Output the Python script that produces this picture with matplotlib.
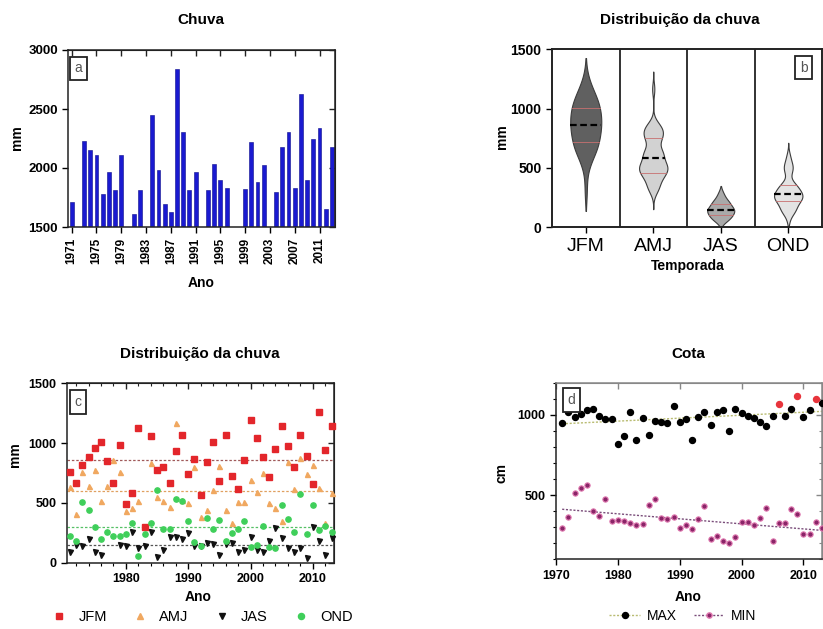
import numpy as np
import matplotlib
matplotlib.use("Agg")
import matplotlib.pyplot as plt
from matplotlib.lines import Line2D

plt.rcParams['font.family'] = ['Liberation Sans', 'DejaVu Sans']

# ---------------- data ----------------
years = list(range(1971, 2014))

annual_mm = [1710, 1420, 2225, 2154, 2109, 1782, 1962, 1816, 2109, 1300,
             1607, 1810, 1000, 2450, 1985, 1697, 1624, 2836, 2309, 1816,
             1962, 1265, 1810, 2036, 1900, 1830, 1467, 1480, 1821, 2219,
             1878, 2022, 1490, 1796, 2177, 2301, 1830, 2625, 1895, 2250,
             2337, 1652, 2182]

jfm = [761, 669, 816, 886, 961, 1011, 850, 669, 980, 487,
       582, 1123, 301, 1059, 775, 803, 669, 936, 1067, 742,
       864, 566, 845, 1006, 683, 1068, 725, 619, 856, 1190,
       1045, 884, 714, 948, 1145, 978, 803, 1065, 892, 655,
       1263, 942, 1143]
amj = [636, 404, 761, 644, 775, 519, 644, 855, 755, 435,
       460, 519, 300, 831, 552, 519, 463, 1165, 525, 500,
       803, 385, 440, 608, 811, 440, 335, 505, 510, 689,
       594, 747, 496, 455, 349, 845, 616, 878, 739, 817,
       622, 335, 580]
jas = [86, 152, 139, 194, 86, 64, np.nan, np.nan, 150, 139,
       253, 125, 139, 253, 50, 106, 217, 211, 194, 245,
       142, 142, 167, 156, 64, 156, 162, 90, 105, 217,
       106, 92, 184, 287, 209, 126, 92, 126, 42, 296,
       184, 64, 209]
ond = [224, 180, 504, 440, 301, 197, 258, 222, 220, 240,
       329, 59, 237, 329, 608, 282, 282, 532, 520, 349,
       170, 139, 371, 282, 357, 181, 245, 282, 351, 129,
       148, 309, 129, 126, 482, 365, 259, 572, 237, 482,
       273, 310, 259]

seasons = ['JFM', 'AMJ', 'JAS', 'OND']

cota_max = [949, 1019, 988, 1004, 1029, 1039, 992, 977, 977, 819,
            870, 1019, 844, 981, 877, 963, 955, 951, 1053, 953,
            973, 844, 984, 1019, 936, 1019, 1029, 897, 1039, 1010,
            992, 979, 955, 932, 994, 1066, 990, 1039, 1117, 984,
            1031, 1097, 1074]
cota_min = [294, 366, 514, 545, 560, 403, 370, 475, 337, 344,
            337, 327, 315, 319, 438, 477, 356, 352, 362, 298,
            311, 290, 352, 434, 228, 243, 216, 202, 239, 335,
            335, 313, 356, 418, 216, 323, 323, 414, 383, 259,
            259, 335, 298]
highlight_years = [2006, 2009, 2012]

# ---------------- layout helpers ----------------
W, H = 823, 629
fig = plt.figure(figsize=(W / 100, H / 100), dpi=100)


def rect(l, t, r, b):
    return [l / W, 1 - b / H, (r - l) / W, (b - t) / H]


def ftext(x, y, s, **kw):
    fig.text(x / W, 1 - y / H, s, **kw)


def boxlabel(x, y, s):
    ftext(x, y, s, ha='center', va='center', fontsize=10, color='#555555',
          bbox=dict(boxstyle='square,pad=0.35', fc='white', ec='#222222', lw=1.3))


def mirror(ax, xt=None, yt=None, xminor=None, yminor=None, color='#222222'):
    if xt is not None:
        sx = ax.secondary_xaxis('top')
        sx.set_xticks(xt)
        if xminor is not None:
            sx.set_xticks(xminor, minor=True)
        sx.tick_params(which='both', direction='in', labeltop=False, color=color)
        sx.tick_params(which='major', length=4, width=1.0)
        sx.tick_params(which='minor', length=2, width=0.8)
        sx.spines['top'].set_color(color)
    if yt is not None:
        sy = ax.secondary_yaxis('right')
        sy.set_yticks(yt)
        if yminor is not None:
            sy.set_yticks(yminor, minor=True)
        sy.tick_params(which='both', direction='in', labelright=False, color=color)
        sy.tick_params(which='major', length=4, width=1.0)
        sy.tick_params(which='minor', length=2, width=0.8)
        sy.spines['right'].set_color(color)


def style(ax, fs=9):
    for s in ax.spines.values():
        s.set_linewidth(1.1)
        s.set_color('#222222')
    ax.tick_params(direction='out', width=1.0, length=4, labelsize=fs)
    for lab in ax.get_xticklabels() + ax.get_yticklabels():
        lab.set_fontweight('bold')


# ---------------- panel a ----------------
axA = fig.add_axes(rect(68.3, 50, 335, 227))
axA.bar(years, annual_mm, width=0.62, color='#1a1ad0', edgecolor='#0b0b8a', lw=0.4)
axA.set_xlim(1970.45, 2013.5)
axA.set_ylim(1500, 3000)
xt_a = list(range(1971, 2012, 4))
axA.set_xticks(xt_a)
axA.set_xticklabels([str(v) for v in xt_a], rotation=90)
axA.set_yticks([1500, 2000, 2500, 3000])
style(axA, 9.5)
for lab in axA.get_xticklabels():
    lab.set_fontsize(8.5)
mirror(axA, xt=xt_a, yt=[1500, 2000, 2500, 3000])
ftext(201, 20, 'Chuva', ha='center', va='center', fontsize=11, fontweight='bold')
ftext(17, 138, 'mm', ha='center', va='center', rotation=90, fontsize=10, fontweight='bold')
ftext(201, 283, 'Ano', ha='center', va='center', fontsize=10, fontweight='bold')
boxlabel(78.5, 68.5, 'a')

# ---------------- panel b (violins) ----------------
axB = fig.add_axes(rect(552, 49.3, 822, 227.3))
season_data = [np.array(jfm, float), np.array(amj, float),
               np.array(jas, float), np.array(ond, float)]
fills = ['#606060', '#d2d2d2', '#a9a9a9', '#e3e3e3']
adjust = [1.0, 0.6, 1.0, 0.7]
half_w = [0.23, 0.21, 0.2, 0.21]


def kde_shape(v, adj):
    v = v[~np.isnan(v)]
    bw = adj * v.std(ddof=1) * len(v) ** (-0.2)
    ext = 1.7 * bw / adj
    lo = max(0.0, v.min() - ext)
    hi = v.max() + ext
    grid = np.linspace(lo, hi, 400)
    d = np.exp(-0.5 * ((grid[:, None] - v[None, :]) / bw) ** 2).sum(1)
    return grid, d / d.max()


for i, (v, fc, adj, hw) in enumerate(zip(season_data, fills, adjust, half_w)):
    g, d = kde_shape(v, adj)
    axB.fill_betweenx(g, i - hw * d, i + hw * d, facecolor=fc,
                      edgecolor='#3c3c3c', lw=0.8, zorder=2)
    q1, med, q3 = np.nanpercentile(v, [25, 50, 75])
    for q in (q1, q3):
        w = hw * np.interp(q, g, d)
        axB.plot([i - w, i + w], [q, q], color='#c87070', lw=0.6, zorder=3)
    w = hw * np.interp(med, g, d)
    axB.plot([i - w, i + w], [med, med], color='black', lw=1.6,
             dashes=(3, 1.6), zorder=4)

for xd in (0.5, 1.5, 2.5):
    axB.axvline(xd, color='#222222', lw=1.3, zorder=1)
axB.set_xlim(-0.5, 3.5)
axB.set_ylim(0, 1500)
axB.set_yticks([0, 500, 1000, 1500])
axB.set_xticks(range(4))
axB.set_xticklabels(seasons)
style(axB, 10)
for lab in axB.get_xticklabels():
    lab.set_fontsize(14)
    lab.set_fontweight('normal')
for s in axB.spines.values():
    s.set_linewidth(1.4)
ftext(680, 20, 'Distribuição da chuva', ha='center', va='center', fontsize=11, fontweight='bold')
ftext(502, 137, 'mm', ha='center', va='center', rotation=90, fontsize=10, fontweight='bold')
ftext(688, 266, 'Temporada', ha='center', va='center', fontsize=10, fontweight='bold')
boxlabel(803.5, 67.5, 'b')

# ---------------- panel c ----------------
axC = fig.add_axes(rect(66.7, 383.3, 334, 562.7))
c_styles = [
    dict(marker='s', color='#e3262b', ms=4.2, line='#a05a5a'),
    dict(marker='^', color='#f0a860', ms=3.6, line='#e0a060'),
    dict(marker='v', color='#111111', ms=3.6, line='#555555'),
    dict(marker='o', color='#3fcf5a', ms=3.8, line='#55c065'),
]
for v, st in zip(season_data, c_styles):
    axC.axhline(np.nanmean(v), color=st['line'], lw=0.9, dashes=(2, 1.5), zorder=1)
zord = [4, 3, 5, 6]
for v, st, z in zip(season_data, c_styles, zord):
    axC.plot(years, v, ls='none', marker=st['marker'], color=st['color'],
             ms=st['ms'], mec=st['color'], zorder=z, clip_on=False)
axC.set_xlim(1970.5, 2013.4)
axC.set_ylim(0, 1500)
axC.set_xticks([1980, 1990, 2000, 2010])
axC.set_xticks(list(range(1972, 2014, 2)), minor=True)
axC.set_yticks([0, 500, 1000, 1500])
style(axC, 9)
axC.tick_params(which='minor', length=2, width=0.8)
mirror(axC, xt=[1980, 1990, 2000, 2010], yt=[0, 500, 1000, 1500],
       xminor=list(range(1972, 2014, 2)))
ftext(200, 354, 'Distribuição da chuva', ha='center', va='center', fontsize=11, fontweight='bold')
ftext(15, 455, 'mm', ha='center', va='center', rotation=90, fontsize=10, fontweight='bold')
ftext(198, 597, 'Ano', ha='center', va='center', fontsize=10, fontweight='bold')
boxlabel(78, 402, 'c')
handles_c = [Line2D([], [], ls='none', marker=st['marker'], color=st['color'],
                    ms=st['ms'] + 0.6) for st in c_styles]
fig.legend(handles_c, seasons, loc='center', bbox_to_anchor=(201 / W, 1 - 617 / H),
           ncol=4, frameon=False, fontsize=10.5, handlelength=1.4,
           handletextpad=0.6, columnspacing=1.6)

# ---------------- panel d ----------------
axD = fig.add_axes(rect(556, 382.7, 822, 559.3))
yrs = np.array(years, float)
mx = np.array(cota_max, float)
mn = np.array(cota_min, float)
line_max = '#b9bc72'
line_min = '#7a4d7a'
pmax = np.polyfit(yrs, mx, 1)
pmin = np.polyfit(yrs, mn, 1)
xx = np.array([1971, 2013], float)
axD.plot(xx, np.polyval(pmax, xx), color=line_max, lw=1.0, dashes=(1.5, 1.2), zorder=1)
axD.plot(xx, np.polyval(pmin, xx), color=line_min, lw=1.0, dashes=(1.5, 1.2), zorder=1)
hl = np.isin(yrs, highlight_years)
axD.plot(yrs[~hl], mx[~hl], ls='none', marker='o', color='black', ms=4.3, zorder=3, clip_on=False)
axD.plot(yrs[hl], mx[hl], ls='none', marker='o', color='#e8343c', ms=4.3, zorder=3, clip_on=False)
axD.plot(yrs, mn, ls='none', marker='o', mfc='#8a2568', mec='#e07ab0', mew=0.8,
         ms=3.8, zorder=3, clip_on=False)
axD.set_xlim(1970, 2013)
axD.set_ylim(100, 1200)
axD.set_xticks([1970, 1980, 1990, 2000, 2010])
axD.set_yticks([500, 1000])
axD.set_yticks(list(range(100, 1201, 100)), minor=True)
style(axD, 9)
axD.tick_params(which='minor', length=2, width=0.8)
axD.spines['top'].set_color('#888888')
axD.spines['right'].set_color('#888888')
mirror(axD, xt=[1970, 1980, 1990, 2000, 2010], yt=[500, 1000],
       yminor=list(range(100, 1201, 100)), color='#888888')
ftext(688, 354, 'Cota', ha='center', va='center', fontsize=11, fontweight='bold')
ftext(502, 473, 'cm', ha='center', va='center', rotation=90, fontsize=10, fontweight='bold')
ftext(688, 597, 'Ano', ha='center', va='center', fontsize=10, fontweight='bold')
boxlabel(571.5, 400, 'd')
handles_d = [Line2D([], [], color=line_max, lw=1.0, dashes=(1.5, 1.2), marker='o',
                    mfc='black', mec='black', ms=4.3),
             Line2D([], [], color=line_min, lw=1.0, dashes=(1.5, 1.2), marker='o',
                    mfc='#8a2568', mec='#e07ab0', ms=3.8)]
fig.legend(handles_d, ['MAX', 'MIN'], loc='center', bbox_to_anchor=(683 / W, 1 - 616 / H),
           ncol=2, frameon=False, fontsize=10, handlelength=2.2,
           handletextpad=0.5, columnspacing=1.2)

fig.savefig('out.png', dpi=100)
